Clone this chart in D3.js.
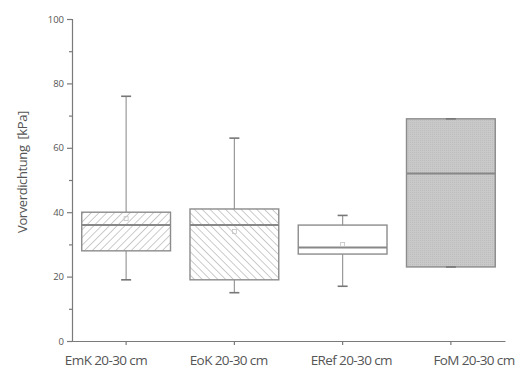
<!DOCTYPE html>
<html lang="de">
<head>
<meta charset="UTF-8">
<title>Vorverdichtung</title>
<script src="https://cdn.jsdelivr.net/npm/d3@7"></script>
<style>
    body { margin: 0; background: #fff; }
    text { font-family: "Open Sans", sans-serif; fill: #555; }
</style>
</head>
<body>
<svg id="chart" width="522" height="376"></svg>
<script>
    // data
    let groups = ["EmK 20-30 cm", "EoK 20-30 cm", "ERef 20-30 cm", "FoM 20-30 cm"]
    let whisker_low = [19, 15, 17, 23]
    let q1 = [28, 19, 27, 23]
    let median = [36, 36, 29, 52]
    let q3 = [40, 41, 36, 69]
    let whisker_high = [76, 63, 39, 69]
    let mean = [38, 34, 30, 48]
    let fills = ["url(#hatchUp)", "url(#hatchDown)", "#ffffff", "url(#dots)"]
    let y_ticks = [0, 20, 40, 60, 80, 100]

    let svg = d3.select("#chart")
    let margin = {left: 72, right: 17, top: 19, bottom: 35}
    let W = 522, H = 376

    // patterns
    let defs = svg.append("defs")
    let up = defs.append("pattern").attr("id", "hatchUp").attr("patternUnits", "userSpaceOnUse")
        .attr("width", 5.5).attr("height", 5.5).attr("patternTransform", "rotate(45)")
    up.append("rect").attr("width", 5.5).attr("height", 5.5).attr("fill", "#fff")
    up.append("line").attr("x1", 0).attr("y1", 0).attr("x2", 0).attr("y2", 5.5).attr("stroke", "#b0b0b0").attr("stroke-width", 1.3)
    let down = defs.append("pattern").attr("id", "hatchDown").attr("patternUnits", "userSpaceOnUse")
        .attr("width", 5.5).attr("height", 5.5).attr("patternTransform", "rotate(-45)")
    down.append("rect").attr("width", 5.5).attr("height", 5.5).attr("fill", "#fff")
    down.append("line").attr("x1", 0).attr("y1", 0).attr("x2", 0).attr("y2", 5.5).attr("stroke", "#b0b0b0").attr("stroke-width", 1.3)
    let dots = defs.append("pattern").attr("id", "dots").attr("patternUnits", "userSpaceOnUse")
        .attr("width", 2).attr("height", 2)
    dots.append("rect").attr("width", 2).attr("height", 2).attr("fill", "#c9c9c9")
    dots.append("rect").attr("width", 1).attr("height", 1).attr("fill", "#bdbdbd")

    let x = d3.scaleBand().domain(groups)
        .range([margin.left, W - margin.right]).paddingInner(0.18).paddingOuter(0.09)
    let y = d3.scaleLinear().domain([0, 100]).range([H - margin.bottom, margin.top])
    // the category labels sit a bit apart from their ticks in the original
    let xLabel = d3.scalePoint().domain(groups).range([106, 474])

    // y axis
    let yAxis = svg.append("g").attr("transform", `translate(${margin.left},0)`)
        .call(d3.axisLeft(y).tickValues(y_ticks).tickSize(5).tickPadding(3))
    let yMinor = svg.append("g").attr("transform", `translate(${margin.left},0)`)
        .call(d3.axisLeft(y).tickValues(d3.range(10, 100, 20)).tickSize(3).tickFormat(""))
    yMinor.select(".domain").remove()

    // x axis
    let xAxis = svg.append("g").attr("transform", `translate(0,${y(0)})`)
        .call(d3.axisBottom(x).tickSize(4).tickSizeOuter(0).tickFormat(""))

    for (let g of [yAxis, yMinor, xAxis]) {
        g.selectAll("path, line").attr("stroke", "#7a7a7a").attr("stroke-width", 1.2)
    }
    yAxis.selectAll("text").style("font-size", "9.5px").attr("fill", "#555")

    svg.append("g").selectAll("text").data(groups).join("text")
        .attr("x", d => xLabel(d))
        .attr("y", y(0) + 24)
        .attr("text-anchor", "middle")
        .style("font-size", "13.5px")
        .style("letter-spacing", "-0.6px")
        .attr("fill", "#444")
        .text(d => d)

    svg.append("text")
        .attr("transform", `translate(27,172) rotate(-90)`)
        .attr("text-anchor", "middle")
        .style("font-size", "13px")
        .style("letter-spacing", "-0.4px")
        .style("white-space", "pre")
        .attr("fill", "#555")
        .text("Vorverdichtung  [kPa]")

    // boxes
    let bw = x.bandwidth()
    groups.forEach(function (gname, i) {
        let cx = x(gname) + bw / 2
        let g = svg.append("g")
        g.append("line").attr("x1", cx).attr("x2", cx).attr("y1", y(whisker_low[i])).attr("y2", y(q1[i]))
            .attr("stroke", "#999").attr("stroke-width", 1.2)
        g.append("line").attr("x1", cx).attr("x2", cx).attr("y1", y(q3[i])).attr("y2", y(whisker_high[i]))
            .attr("stroke", "#999").attr("stroke-width", 1.2)
        g.append("rect").attr("x", x(gname)).attr("width", bw)
            .attr("y", y(q3[i])).attr("height", y(q1[i]) - y(q3[i]))
            .attr("fill", fills[i]).attr("stroke", "#8c8c8c").attr("stroke-width", 1.4)
        g.append("line").attr("x1", x(gname)).attr("x2", x(gname) + bw)
            .attr("y1", y(median[i])).attr("y2", y(median[i]))
            .attr("stroke", "#888").attr("stroke-width", 2)
        for (let v of [whisker_low[i], whisker_high[i]]) {
            g.append("line").attr("x1", cx - 5).attr("x2", cx + 5).attr("y1", y(v)).attr("y2", y(v))
                .attr("stroke", "#777").attr("stroke-width", 1.6)
        }
        g.append("rect").attr("x", cx - 2).attr("y", y(mean[i]) - 2).attr("width", 4).attr("height", 4)
            .attr("fill", "none").attr("stroke", "#c4c4c4").attr("stroke-width", 0.8)
    })
</script>
</body>
</html>
